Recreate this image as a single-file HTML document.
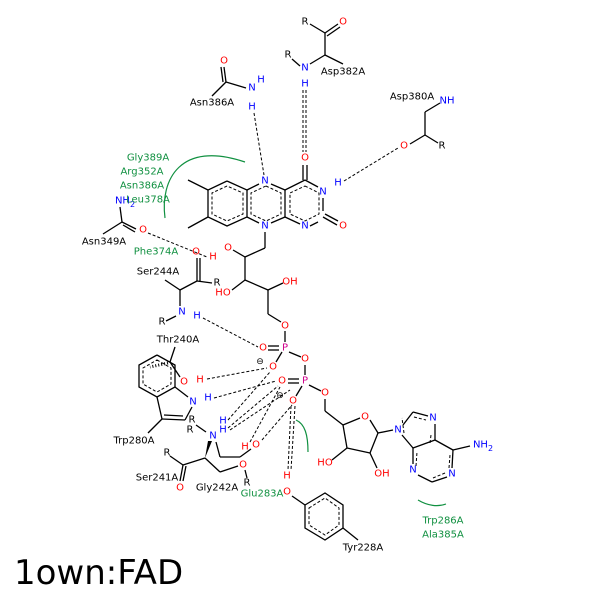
<!DOCTYPE html>
<html><head><style>
html,body{margin:0;padding:0;background:#fff}
svg{display:block}
text{font-family:"DejaVu Sans","Liberation Sans",sans-serif;font-size:10px;dominant-baseline:central;text-anchor:middle}
.k{fill:#000}.b{fill:#0000ff}.r{fill:#ff0000}.m{fill:#d0008c}.g{fill:#109040}
</style></head><body>
<svg width="600" height="600" viewBox="0 0 600 600">
<g stroke="#000" stroke-width="1.3" fill="none">
<!-- flavin rings -->
<polyline points="227,181 208,190 208,217 227,226 247,217 247,190 227,181"/>
<line x1="247" y1="190" x2="259" y2="184"/><line x1="271" y1="184" x2="285" y2="190"/>
<line x1="285" y1="190" x2="285" y2="217"/><line x1="285" y1="217" x2="271" y2="223"/><line x1="259" y1="223" x2="247" y2="217"/>
<line x1="285" y1="190" x2="305" y2="180"/><line x1="305" y1="180" x2="318" y2="187"/><line x1="323" y1="198" x2="323" y2="211"/>
<line x1="318" y1="222" x2="310" y2="226"/><line x1="300" y1="224" x2="285" y2="217"/>
<line x1="303" y1="180" x2="303" y2="165"/><line x1="307" y1="180" x2="307" y2="165"/>
<line x1="323" y1="217" x2="337" y2="225"/><line x1="325" y1="214" x2="338" y2="221"/>
<line x1="208" y1="190" x2="188" y2="180"/><line x1="208" y1="217" x2="188" y2="228"/>
<!-- ribityl -->
<line x1="265" y1="232" x2="265" y2="248"/><line x1="265" y1="248" x2="245" y2="257"/><line x1="245" y1="257" x2="233" y2="250"/>
<line x1="245" y1="257" x2="245" y2="280"/><line x1="245" y1="280" x2="232" y2="290"/><line x1="245" y1="280" x2="268" y2="290"/>
<line x1="268" y1="290" x2="283" y2="283"/><line x1="268" y1="290" x2="268" y2="314"/><line x1="268" y1="314" x2="281" y2="322"/>
<line x1="285" y1="331" x2="285" y2="342"/><line x1="289" y1="352" x2="301" y2="357"/><line x1="305" y1="365" x2="305" y2="375"/>
<line x1="309" y1="385" x2="321" y2="391"/><line x1="325" y1="399" x2="325" y2="411"/><line x1="325" y1="411" x2="343" y2="425"/>
<line x1="279" y1="350" x2="268" y2="350"/><line x1="279" y1="346" x2="268" y2="346"/>
<line x1="299" y1="383" x2="288" y2="383"/><line x1="299" y1="379" x2="288" y2="379"/>
<line x1="282" y1="352" x2="276" y2="362"/><line x1="302" y1="386" x2="296" y2="396"/>
<!-- ribose -->
<line x1="343" y1="425" x2="360" y2="418"/><line x1="370" y1="420" x2="378" y2="433"/><line x1="378" y1="433" x2="370" y2="453"/>
<line x1="370" y1="453" x2="347" y2="448"/><line x1="347" y1="448" x2="343" y2="425"/><line x1="347" y1="448" x2="332" y2="460"/>
<line x1="370" y1="453" x2="377" y2="468"/><line x1="378" y1="433" x2="393" y2="430"/>
<!-- adenine -->
<line x1="403" y1="425" x2="413" y2="412"/><line x1="413" y1="412" x2="428" y2="416"/><line x1="435" y1="424" x2="435" y2="440"/>
<line x1="435" y1="440" x2="413" y2="448"/><line x1="413" y1="448" x2="402" y2="435"/><line x1="413" y1="448" x2="413" y2="464"/>
<line x1="418" y1="475" x2="432" y2="482"/><line x1="432" y1="482" x2="447" y2="477"/><line x1="452" y1="468" x2="453" y2="450"/>
<line x1="453" y1="450" x2="435" y2="440"/><line x1="453" y1="450" x2="470" y2="446"/>
<!-- tyr -->
<polyline points="305,505 325,493 343,505 343,528 325,540 305,528 305,505"/>
<line x1="305" y1="505" x2="292" y2="496"/><line x1="343" y1="528" x2="358" y2="540"/>
<!-- trp -->
<polyline points="157,355 175,365 175,387 157,397 139,387 139,365 157,355"/>
<line x1="175" y1="387" x2="188" y2="397"/><line x1="192" y1="407" x2="185" y2="420"/>
<line x1="185" y1="420" x2="162" y2="419"/><line x1="183" y1="416" x2="164" y2="415"/>
<line x1="162" y1="419" x2="157" y2="397"/><line x1="162" y1="419" x2="148" y2="433"/>
<!-- thr -->
<line x1="175" y1="347" x2="170" y2="362"/><line x1="170" y1="362" x2="180" y2="377"/>
<!-- ser244 -->
<line x1="180" y1="290" x2="197" y2="281"/><line x1="197" y1="281" x2="197" y2="258"/><line x1="200" y1="281" x2="200" y2="258"/>
<line x1="197" y1="281" x2="212" y2="283"/><line x1="180" y1="290" x2="165" y2="280"/><line x1="180" y1="290" x2="180" y2="306"/>
<line x1="176" y1="316" x2="166" y2="321"/>
<!-- asn349 -->
<line x1="120" y1="207" x2="122" y2="222"/><line x1="122" y1="222" x2="103" y2="234"/><line x1="122" y1="222" x2="136" y2="229"/><line x1="123" y1="225" x2="135" y2="232"/>
<!-- asn386 -->
<line x1="224" y1="67" x2="226" y2="82"/><line x1="221" y1="67" x2="223" y2="82"/><line x1="226" y1="82" x2="212" y2="96"/><line x1="226" y1="82" x2="246" y2="88"/>
<!-- asp382 -->
<line x1="310" y1="24" x2="325" y2="33"/><line x1="325" y1="33" x2="338" y2="24"/><line x1="327" y1="36" x2="340" y2="27"/>
<line x1="325" y1="33" x2="325" y2="55"/><line x1="325" y1="55" x2="343" y2="64"/><line x1="325" y1="55" x2="310" y2="64"/><line x1="300" y1="66" x2="292" y2="59"/>
<!-- asp380 -->
<line x1="425" y1="112" x2="425" y2="135"/><line x1="425" y1="112" x2="440" y2="103"/><line x1="425" y1="135" x2="410" y2="144"/><line x1="425" y1="135" x2="438" y2="143"/>
<!-- ser241 / gly242 -->
<line x1="170" y1="456" x2="183" y2="465"/><line x1="183" y1="465" x2="180" y2="481"/><line x1="186" y1="466" x2="183" y2="481"/>
<line x1="183" y1="465" x2="205" y2="458"/>
<line x1="205" y1="458" x2="220" y2="472"/><line x1="220" y1="472" x2="238" y2="466"/><line x1="245" y1="470" x2="247" y2="478"/>
<line x1="216" y1="442" x2="220" y2="457"/><line x1="220" y1="457" x2="240" y2="457"/><line x1="240" y1="457" x2="251" y2="449"/>
<line x1="206" y1="432" x2="196" y2="425"/>
</g>
<polygon points="205,458 208,441 212,441" fill="#000"/>
<g stroke="#000" stroke-width="1" fill="none" stroke-dasharray="3,2">
<polygon points="227,186 212,193 212,214 227,221 243,214 243,193"/>
<polygon points="266,186 281,193 281,214 266,221 251,214 251,193"/>
<polygon points="305,186 319,193 319,214 305,221 290,214 290,193"/>
<polygon points="309,508 325,498 339,508 339,525 325,535 309,525"/>
<polygon points="157,360 171,368 171,384 157,392 143,384 143,368"/>
<line x1="404" y1="433" x2="402" y2="418"/><line x1="414" y1="417" x2="426" y2="420"/><line x1="430" y1="443" x2="431" y2="435"/>
<line x1="416" y1="466" x2="417" y2="452"/><line x1="433" y1="478" x2="445" y2="473"/><line x1="449" y1="468" x2="450" y2="455"/>
</g>
<g stroke="#000" stroke-width="1">
<line x1="168" y1="363" x2="150" y2="367" stroke-dasharray="1,2" stroke-width="3"/>
</g>
<!-- H-bonds -->
<g stroke="#000" stroke-width="1" fill="none" stroke-dasharray="3,2">
<line x1="254" y1="113" x2="264" y2="175"/>
<line x1="303" y1="90" x2="303" y2="152"/><line x1="306" y1="90" x2="306" y2="152"/>
<line x1="344" y1="181" x2="398" y2="148"/>
<line x1="148" y1="233" x2="207" y2="257"/>
<line x1="203" y1="318" x2="258" y2="347"/>
<line x1="207" y1="379" x2="267" y2="368"/>
<line x1="214" y1="398" x2="276" y2="381"/>
<line x1="228" y1="420" x2="270" y2="372"/><line x1="228" y1="428" x2="278" y2="386"/><line x1="230" y1="430" x2="290" y2="390"/>
<line x1="250" y1="442" x2="280" y2="387"/><line x1="262" y1="440" x2="292" y2="405"/>
<line x1="291" y1="406" x2="288" y2="470"/><line x1="295" y1="406" x2="291" y2="470"/>
</g>
<!-- hydrophobic arcs -->
<g stroke="#109040" stroke-width="1.2" fill="none">
<path d="M165,218 C160,180 180,140 245,162"/>
<path d="M296,420 C305,424 308,435 308,452"/>
<path d="M418,500 C428,506 438,507 446,504"/>
</g>
<g>
<text class="b" x="265" y="181">N</text><text class="b" x="265" y="226">N</text>
<text class="b" x="323" y="192">N</text><text class="b" x="338" y="183">H</text><text class="b" x="305" y="226">N</text>
<text class="r" x="305" y="158">O</text><text class="r" x="343" y="226">O</text>
<text class="r" x="228" y="248">O</text><text class="r" x="213" y="257">H</text>
<text class="r" x="223" y="293">HO</text><text class="r" x="290" y="282">OH</text>
<text class="r" x="285" y="326">O</text><text class="m" x="285" y="348">P</text><text class="r" x="263" y="348">O</text>
<text class="r" x="273" y="367">O</text><text class="r" x="305" y="359">O</text><text class="m" x="305" y="381">P</text>
<text class="r" x="282" y="381">O</text><text class="r" x="293" y="401">O</text><text class="r" x="325" y="393">O</text>
<text class="k" x="260" y="362" style="font-size:9px">⊖</text><text class="k" x="280" y="396" style="font-size:9px">⊖</text>
<text class="r" x="365" y="417">O</text><text class="r" x="325" y="463">HO</text><text class="r" x="382" y="474">OH</text>
<text class="b" x="398" y="430">N</text><text class="b" x="433" y="418">N</text><text class="b" x="413" y="470">N</text>
<text class="b" x="452" y="474">N</text><text class="b" x="483" y="445">NH<tspan dy="3" style="font-size:8px">2</tspan></text>
<text class="r" x="287" y="492">O</text><text class="r" x="287" y="476">H</text>
<text class="k" x="363" y="548">Tyr228A</text>
<text class="k" x="178" y="340">Thr240A</text><text class="r" x="184" y="382">O</text><text class="r" x="200" y="380">H</text>
<text class="b" x="193" y="402">N</text><text class="b" x="208" y="398">H</text>
<text class="k" x="134" y="441">Trp280A</text>
<text class="k" x="158" y="272">Ser244A</text><text class="b" x="182" y="312">N</text><text class="b" x="197" y="316">H</text>
<text class="k" x="162" y="322">R</text><text class="r" x="196" y="252">O</text><text class="k" x="217" y="283">R</text>
<text class="k" x="104" y="242">Asn349A</text><text class="b" x="125" y="201">NH<tspan dy="3" style="font-size:8px">2</tspan></text><text class="r" x="143" y="230">O</text>
<text class="g" x="148" y="158">Gly389A</text><text class="g" x="142" y="172">Arg352A</text>
<text class="g" x="142" y="186">Asn386A</text><text class="g" x="148" y="200">Leu378A</text><text class="g" x="156" y="252">Phe374A</text>
<text class="k" x="212" y="103">Asn386A</text><text class="r" x="224" y="61">O</text><text class="b" x="252" y="88">N</text>
<text class="b" x="261" y="80">H</text><text class="b" x="252" y="107">H</text>
<text class="k" x="305" y="22">R</text><text class="r" x="343" y="22">O</text><text class="b" x="305" y="68">N</text>
<text class="k" x="288" y="55">R</text><text class="b" x="305" y="84">H</text><text class="k" x="343" y="72">Asp382A</text>
<text class="k" x="412" y="97">Asp380A</text><text class="b" x="447" y="101">NH</text><text class="r" x="404" y="146">O</text><text class="k" x="442" y="146">R</text>
<text class="k" x="157" y="478">Ser241A</text><text class="k" x="167" y="453">R</text><text class="r" x="180" y="488">O</text>
<text class="b" x="213" y="436">N</text><text class="k" x="192" y="420">R</text><text class="k" x="190" y="430">R</text>
<text class="b" x="223" y="421">H</text><text class="b" x="223" y="430">H</text>
<text class="k" x="217" y="488">Gly242A</text><text class="k" x="247" y="483">R</text>
<text class="r" x="245" y="447">H</text><text class="r" x="256" y="445">O</text><text class="r" x="243" y="465">O</text>
<text class="g" x="262" y="494">Glu283A</text>
<text class="g" x="443" y="521">Trp286A</text><text class="g" x="443" y="535">Ala385A</text>
<text class="k" x="14" y="573" style="font-size:34px;text-anchor:start">1own:FAD</text>
</g>
</svg>
</body></html>
